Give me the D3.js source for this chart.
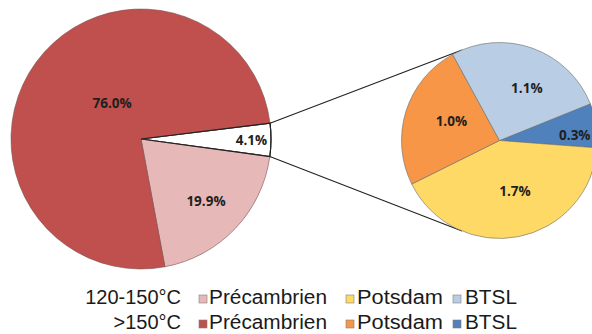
<!DOCTYPE html>
<html><head><meta charset="utf-8">
<script src="https://cdn.jsdelivr.net/npm/d3@7"></script>
<style>html,body{margin:0;padding:0;background:#fff;}svg{display:block;}</style>
</head><body><div id="chart"></div>
<script>
// ---- data ----
const mainCategories = ["Reste (zoom)", "120-150°C Précambrien", ">150°C Précambrien"];
const mainValues = [4.1, 19.9, 76.0];
const mainLabels = ["4.1%", "19.9%", "76.0%"];

const subCategories = [">150°C BTSL", "120-150°C Potsdam", ">150°C Potsdam", "120-150°C BTSL"];
const subValues = [0.3, 1.7, 1.0, 1.1];
const subLabels = ["0.3%", "1.7%", "1.0%", "1.1%"];

const legendRows = ["120-150°C", ">150°C"];
const legendFormations = ["Précambrien", "Potsdam", "BTSL"];

// ---- styles ----
const colors = {
  "Reste (zoom)": "#ffffff",
  "120-150°C Précambrien": "#E6B9B8",
  ">150°C Précambrien": "#C0504D",
  "120-150°C Potsdam": "#FFD966",
  ">150°C Potsdam": "#F79646",
  "120-150°C BTSL": "#B9CDE5",
  ">150°C BTSL": "#4F81BD"
};

const W = 592, H = 334;
const svg = d3.select("#chart").append("svg").attr("width", W).attr("height", H);
const rad = d => d * Math.PI / 180;
const polar = (cx, cy, r, a) => [cx + r * Math.sin(a), cy - r * Math.cos(a)];

// main pie
const mc = [141, 139], mr = 130;
const mainPie = d3.pie().sort(null).startAngle(rad(83)).endAngle(rad(443))(mainValues);
const mainArc = d3.arc().innerRadius(0).outerRadius(mr);
const gm = svg.append("g").attr("transform", `translate(${mc[0]},${mc[1]})`);
gm.selectAll("path").data(mainPie).join("path")
  .attr("d", mainArc)
  .attr("fill", (d, i) => colors[mainCategories[i]])
  .attr("stroke", (d, i) => i === 0 ? "#222" : "#7a5050")
  .attr("stroke-width", (d, i) => i === 0 ? 1.1 : 0.6);
gm.append("path").datum(mainPie[0]).attr("d", mainArc).attr("fill", "none")
  .attr("stroke", "#222").attr("stroke-width", 1.1);

const mainLabelPos = [[0, 0.85], [0, 0.69], [15, 0.355]]; // [angle nudge deg, radius fraction]
gm.selectAll("text").data(mainPie).join("text")
  .attr("transform", (d, i) => {
    const a = (d.startAngle + d.endAngle) / 2 + rad(mainLabelPos[i][0]);
    const p = polar(0, 0, mr * mainLabelPos[i][1], a);
    return `translate(${p[0]},${p[1]})`;
  })
  .attr("text-anchor", "middle").attr("dy", "0.36em")
  .attr("font-family", "'Open Sans', 'DejaVu Sans', sans-serif")
  .attr("font-weight", "bold").attr("font-size", 13.5).attr("fill", "#1f1f1f")
  .text((d, i) => mainLabels[i]);

// sub pie
const sc = [499.5, 140.5], sr = 98;
const subPie = d3.pie().sort(null).startAngle(rad(68)).endAngle(rad(428))(subValues);
const subArc = d3.arc().innerRadius(0).outerRadius(sr);

// connector lines
const wp = mainPie[0];
const p1 = polar(mc[0], mc[1], mr, wp.startAngle), p2 = polar(mc[0], mc[1], mr, wp.endAngle);
const q1 = polar(sc[0], sc[1], sr, rad(-22.5)), q2 = polar(sc[0], sc[1], sr, rad(202.5));
svg.append("line").attr("x1", p1[0]).attr("y1", p1[1]).attr("x2", q1[0]).attr("y2", q1[1])
  .attr("stroke", "#222").attr("stroke-width", 1.1);
svg.append("line").attr("x1", p2[0]).attr("y1", p2[1]).attr("x2", q2[0]).attr("y2", q2[1])
  .attr("stroke", "#222").attr("stroke-width", 1.1);

const gs = svg.append("g").attr("transform", `translate(${sc[0]},${sc[1]})`);
gs.selectAll("path").data(subPie).join("path")
  .attr("d", subArc)
  .attr("fill", (d, i) => colors[subCategories[i]])
  .attr("stroke", "#6b6b6b").attr("stroke-width", 0.6);

const subLabelPos = [[5, 0.77], [-6, 0.54], [4.5, 0.53], [8, 0.6]];
gs.selectAll("text").data(subPie).join("text")
  .attr("transform", (d, i) => {
    const a = (d.startAngle + d.endAngle) / 2 + rad(subLabelPos[i][0]);
    const p = polar(0, 0, sr * subLabelPos[i][1], a);
    return `translate(${p[0]},${p[1]})`;
  })
  .attr("text-anchor", "middle").attr("dy", "0.36em")
  .attr("font-family", "'Open Sans', 'DejaVu Sans', sans-serif")
  .attr("font-weight", "bold").attr("font-size", 13.5).attr("fill", "#1f1f1f")
  .text((d, i) => subLabels[i]);

// legend
const rowY = [304, 329];
const sqX = [199, 346, 453], txX = [209, 357, 465], txW = [118, 86, 52];
const lg = svg.append("g").attr("font-family", "'Liberation Sans', Arial, sans-serif")
  .attr("font-size", 20).attr("fill", "#1a1a1a");
legendRows.forEach((row, r) => {
  lg.append("text").attr("x", 181).attr("y", rowY[r]).attr("text-anchor", "end").text(row);
  legendFormations.forEach((f, k) => {
    lg.append("rect").attr("x", sqX[k]).attr("y", rowY[r] - 9).attr("width", 8).attr("height", 8)
      .attr("fill", colors[row + " " + f]).attr("stroke", "#7f7f7f").attr("stroke-width", 0.6);
    lg.append("text").attr("x", txX[k]).attr("y", rowY[r])
      .attr("textLength", txW[k]).attr("lengthAdjust", "spacingAndGlyphs").text(f);
  });
});
</script></body></html>
